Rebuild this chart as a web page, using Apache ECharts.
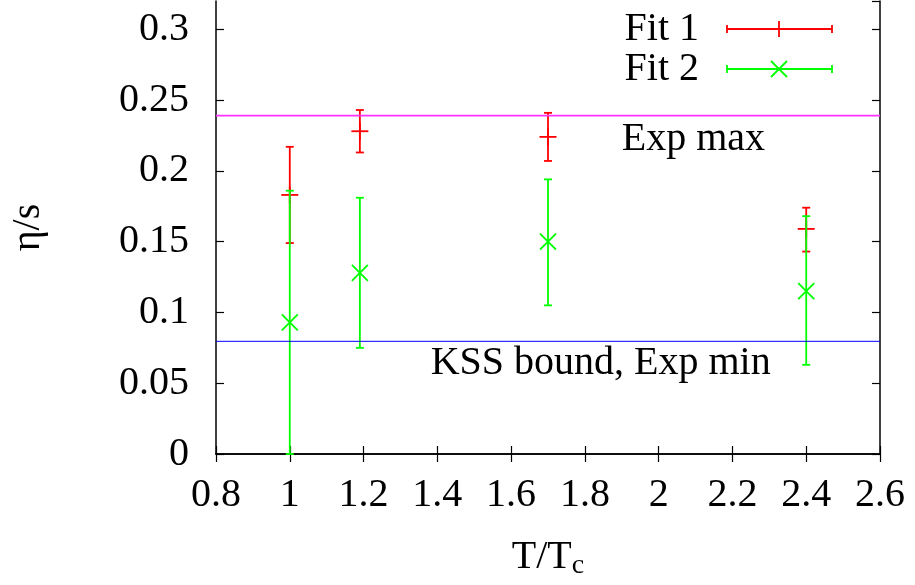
<!DOCTYPE html>
<html>
<head>
<meta charset="utf-8">
<script src="https://cdn.jsdelivr.net/npm/echarts@6/dist/echarts.min.js"></script>
<style>
  html, body { margin: 0; padding: 0; background: #fff; }
  #main { width: 915px; height: 585px; }
</style>
</head>
<body>
<div id="main"></div>
<script>
// T/Tc positions of the points
var temps = [1.0, 1.19, 1.7, 2.4];

// Fit 1 (red, +)
var fit1 = [0.183, 0.228, 0.224, 0.159];
var fit1Lo = [0.149, 0.213, 0.207, 0.143];
var fit1Hi = [0.217, 0.243, 0.241, 0.174];

// Fit 2 (green, x)
var fit2 = [0.093, 0.128, 0.150, 0.115];
var fit2Lo = [0.0, 0.075, 0.105, 0.063];
var fit2Hi = [0.186, 0.181, 0.194, 0.168];

// horizontal reference lines
var expMax = 0.239;
var kssBound = 0.0796;

// text notes in data coords
var noteX = [1.9, 1.382];
var noteY = [0.222, 0.064];
var noteText = ['Exp max', 'KSS bound, Exp min'];

var FONT = 'Liberation Serif';
var FS = 40;
var RED = '#ff0000', GREEN = '#00ff00';

function errData(lo, mid, hi) {
  return temps.map(function (t, i) { return [t, lo[i], mid[i], hi[i]]; });
}

function errRender(color, cross) {
  return function (params, api) {
    var x = api.value(0);
    var pLo = api.coord([x, api.value(1)]);
    var pMid = api.coord([x, api.value(2)]);
    var pHi = api.coord([x, api.value(3)]);
    var cap = 4, m = 8.5, d = 8;
    var st = { stroke: color, lineWidth: 1.8 };
    var kids = [
      { type: 'line', shape: { x1: pLo[0], y1: pLo[1], x2: pHi[0], y2: pHi[1] }, style: st },
      { type: 'line', shape: { x1: pLo[0] - cap, y1: pLo[1], x2: pLo[0] + cap, y2: pLo[1] }, style: st },
      { type: 'line', shape: { x1: pHi[0] - cap, y1: pHi[1], x2: pHi[0] + cap, y2: pHi[1] }, style: st }
    ];
    if (cross) {
      kids.push({ type: 'line', shape: { x1: pMid[0] - d, y1: pMid[1] - d, x2: pMid[0] + d, y2: pMid[1] + d }, style: st });
      kids.push({ type: 'line', shape: { x1: pMid[0] - d, y1: pMid[1] + d, x2: pMid[0] + d, y2: pMid[1] - d }, style: st });
    } else {
      kids.push({ type: 'line', shape: { x1: pMid[0] - m, y1: pMid[1], x2: pMid[0] + m, y2: pMid[1] }, style: st });
      kids.push({ type: 'line', shape: { x1: pMid[0], y1: pMid[1] - m, x2: pMid[0], y2: pMid[1] + m }, style: st });
    }
    return { type: 'group', children: kids };
  };
}

function legendItem(y, label, color, cross) {
  var st = { stroke: color, lineWidth: 1.8 };
  var x1 = 727, x2 = 832, xc = 779;
  var kids = [
    { type: 'text', x: 699, y: y, style: { text: label, font: FS + 'px ' + FONT, fill: '#000', align: 'right', verticalAlign: 'middle' } },
    { type: 'line', shape: { x1: x1, y1: y, x2: x2, y2: y }, style: st },
    { type: 'line', shape: { x1: x1, y1: y - 4, x2: x1, y2: y + 4 }, style: st },
    { type: 'line', shape: { x1: x2, y1: y - 4, x2: x2, y2: y + 4 }, style: st }
  ];
  if (cross) {
    kids.push({ type: 'line', shape: { x1: xc - 8, y1: y - 8, x2: xc + 8, y2: y + 8 }, style: st });
    kids.push({ type: 'line', shape: { x1: xc - 8, y1: y + 8, x2: xc + 8, y2: y - 8 }, style: st });
  } else {
    kids.push({ type: 'line', shape: { x1: xc, y1: y - 8, x2: xc, y2: y + 8 }, style: st });
  }
  return { type: 'group', children: kids };
}

var axisLine = { show: true, lineStyle: { color: '#000', width: 1.5 } };
var axisTick = { show: true, inside: true, length: 8, lineStyle: { color: '#000', width: 1.2 } };

var myChart = echarts.init(document.getElementById('main'));
myChart.setOption({
  animation: false,
  backgroundColor: '#fff',
  grid: { left: 212, right: 35, top: 1, bottom: 128 },
  xAxis: [{
    type: 'value', position: 'bottom', min: 0.8, max: 2.6, interval: 0.2,
    axisLine: axisLine, axisTick: axisTick, splitLine: { show: false },
    axisLabel: { color: '#000', fontFamily: FONT, fontSize: FS, margin: 21 },
    name: 'T/T{sub|c}', nameLocation: 'middle', nameGap: 80,
    nameTextStyle: {
      color: '#000', fontFamily: FONT, fontSize: FS,
      rich: { sub: { fontFamily: FONT, fontSize: 28, color: '#000', padding: [18, 0, 0, 0] } }
    }
  }, {
    type: 'value', position: 'top', min: 0.8, max: 2.6, interval: 0.2,
    axisLine: axisLine, axisTick: axisTick, axisLabel: { show: false }, splitLine: { show: false }
  }],
  yAxis: [{
    type: 'value', position: 'left', min: 0, max: 0.32, interval: 0.05,
    axisLine: axisLine, axisTick: axisTick, splitLine: { show: false },
    axisLabel: { color: '#000', fontFamily: FONT, fontSize: FS, margin: 27, showMaxLabel: false },
    name: 'η/s', nameLocation: 'middle', nameGap: 168, nameRotate: 90,
    nameTextStyle: { color: '#000', fontFamily: FONT, fontSize: FS }
  }, {
    type: 'value', position: 'right', min: 0, max: 0.32, interval: 0.05,
    axisLine: axisLine, axisTick: axisTick, axisLabel: { show: false }, splitLine: { show: false }
  }],
  series: [
    {
      name: 'Exp max', type: 'line', showSymbol: false, silent: true,
      data: [[0.8, expMax], [2.6, expMax]],
      lineStyle: { color: '#ff33ff', width: 1.6 }
    },
    {
      name: 'KSS', type: 'line', showSymbol: false, silent: true,
      data: [[0.8, kssBound], [2.6, kssBound]],
      lineStyle: { color: '#0000ff', width: 1 }
    },
    {
      name: 'Fit 1', type: 'custom', renderItem: errRender(RED, false),
      data: errData(fit1Lo, fit1, fit1Hi), encode: { x: 0, y: [1, 2, 3] }
    },
    {
      name: 'Fit 2', type: 'custom', renderItem: errRender(GREEN, true),
      data: errData(fit2Lo, fit2, fit2Hi), encode: { x: 0, y: [1, 2, 3] }
    },
    {
      name: 'notes', type: 'scatter', symbolSize: 0, silent: true,
      itemStyle: { opacity: 1 },
      data: noteX.map(function (x, i) { return { value: [x, noteY[i]], name: noteText[i] }; }),
      label: {
        show: true, position: 'right', distance: 0, formatter: '{b}',
        color: '#000', fontFamily: FONT, fontSize: FS
      }
    }
  ],
  graphic: [
    legendItem(29, 'Fit 1', RED, false),
    legendItem(69, 'Fit 2', GREEN, true)
  ]
});
</script>
</body>
</html>
